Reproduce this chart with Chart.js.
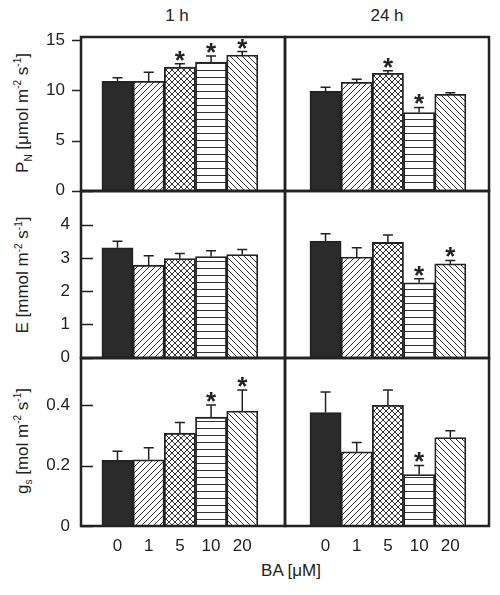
<!DOCTYPE html>
<html>
<head>
<meta charset="utf-8">
<script src="https://cdn.jsdelivr.net/npm/chart.js@4.4.1/dist/chart.umd.min.js"></script>
<style>
  body { margin: 0; background: #fff; font-family: "Liberation Sans", Arial, sans-serif; color: #222; }
  #wrap { position: relative; width: 500px; height: 595px; overflow: hidden; }
  canvas { position: absolute; }
  .txt { position: absolute; font-size: 17px; white-space: nowrap; transform: translate(-50%, -50%); }
  .ylab { position: absolute; font-size: 17px; white-space: nowrap; transform: translate(-50%, -50%) rotate(-90deg); }
  sub, sup { font-size: 10px; }
</style>
</head>
<body>
<div id="wrap">
  <div class="txt" style="left:177px;top:16px">1 h</div>
  <div class="txt" style="left:387px;top:16px">24 h</div>
  <div class="ylab" style="left:23px;top:113px">P<sub>N</sub> [μmol m<sup>-2</sup> s<sup>-1</sup>]</div>
  <div class="ylab" style="left:23px;top:275px">E [mmol m<sup>-2</sup> s<sup>-1</sup>]</div>
  <div class="ylab" style="left:23px;top:441px">g<sub>s</sub> [mol m<sup>-2</sup> s<sup>-1</sup>]</div>
  <div class="txt" style="left:291px;top:571px">BA [μM]</div>
</div>
<script>
// BA doses
var doses = ['0', '1', '5', '10', '20'];

// net photosynthetic rate
var pn1h = [10.9, 10.9, 12.3, 12.8, 13.5];
var pn1hErr = [0.35, 0.9, 0.35, 0.6, 0.35];
var pn1hSig = [0, 0, 1, 1, 1];
var pn24h = [9.9, 10.8, 11.7, 7.8, 9.6];
var pn24hErr = [0.4, 0.3, 0.25, 0.5, 0.15];
var pn24hSig = [0, 0, 1, 1, 0];

// transpiration rate
var e1h = [3.3, 2.78, 2.98, 3.04, 3.1];
var e1hErr = [0.2, 0.28, 0.15, 0.17, 0.15];
var e1hSig = [0, 0, 0, 0, 0];
var e24h = [3.5, 3.02, 3.46, 2.25, 2.82];
var e24hErr = [0.22, 0.28, 0.22, 0.12, 0.1];
var e24hSig = [0, 0, 0, 1, 1];

// stomatal conductance
var gs1h = [0.217, 0.219, 0.307, 0.36, 0.38];
var gs1hErr = [0.03, 0.04, 0.035, 0.04, 0.07];
var gs1hSig = [0, 0, 0, 1, 1];
var gs24h = [0.375, 0.245, 0.399, 0.17, 0.292];
var gs24hErr = [0.068, 0.031, 0.05, 0.03, 0.023];
var gs24hSig = [0, 0, 0, 1, 0];

var ink = '#222';
var FONT = '"Liberation Sans", Arial, sans-serif';

function hatch(kind) {
  var s = kind == 'horiz' ? 7 : 6;
  var c = document.createElement('canvas');
  c.width = s; c.height = s;
  var g = c.getContext('2d');
  g.fillStyle = '#fff';
  g.fillRect(0, 0, s, s);
  g.strokeStyle = '#333';
  g.lineWidth = 1;
  g.beginPath();
  if (kind == 'fwd' || kind == 'cross') {
    g.moveTo(0, s); g.lineTo(s, 0);
    g.moveTo(-1, 1); g.lineTo(1, -1);
    g.moveTo(s - 1, s + 1); g.lineTo(s + 1, s - 1);
  }
  if (kind == 'back' || kind == 'cross') {
    g.moveTo(0, 0); g.lineTo(s, s);
    g.moveTo(-1, s - 1); g.lineTo(1, s + 1);
    g.moveTo(s - 1, -1); g.lineTo(s + 1, 1);
  }
  if (kind == 'horiz') {
    g.moveTo(0, 3.5); g.lineTo(s, 3.5);
  }
  g.stroke();
  return g.createPattern(c, 'repeat');
}

var fills = ['#2b2b2b', hatch('fwd'), hatch('cross'), hatch('horiz'), hatch('back')];

// error bars, asterisks, box and y tick marks
var extras = {
  id: 'extras',
  afterDatasetsDraw: function(chart) {
    var ctx = chart.ctx, a = chart.chartArea;
    var x = chart.scales.x, y = chart.scales.y;
    var ds = chart.data.datasets[0];
    var opt = chart.options.plugins.extras;
    ctx.save();
    ctx.strokeStyle = ink;
    ctx.fillStyle = ink;
    ctx.lineWidth = 1.5;
    ds.data.forEach(function(pt, i) {
      var px = x.getPixelForValue(pt.x);
      var top = y.getPixelForValue(pt.y);
      var et = y.getPixelForValue(pt.y + ds.errs[i]);
      ctx.beginPath();
      ctx.moveTo(px, top); ctx.lineTo(px, et);
      ctx.moveTo(px - 5, et); ctx.lineTo(px + 5, et);
      ctx.stroke();
      if (ds.sig[i]) {
        ctx.font = 'bold 26px ' + FONT;
        ctx.textAlign = 'center';
        ctx.textBaseline = 'alphabetic';
        ctx.fillText('*', px, et + 5);
      }
    });
    ctx.lineWidth = 2.5;
    ctx.strokeRect(a.left, a.top, a.right - a.left, a.bottom - a.top);
    if (opt.tickDir) {
      ctx.lineWidth = 1.5;
      ctx.beginPath();
      y.ticks.forEach(function(t) {
        var py = Math.round(y.getPixelForValue(t.value)) + 0.5;
        ctx.moveTo(a.left, py);
        ctx.lineTo(a.left + opt.tickDir, py);
      });
      ctx.stroke();
    }
    ctx.restore();
  }
};

function panel(p) {
  var cv = document.createElement('canvas');
  cv.width = p.w; cv.height = p.h;
  cv.style.left = p.left + 'px';
  cv.style.top = p.top + 'px';
  document.getElementById('wrap').appendChild(cv);
  var pts = p.vals.map(function(v, i) { return { x: i, y: v }; });
  new Chart(cv, {
    type: 'bar',
    data: {
      datasets: [{
        data: pts,
        errs: p.errs,
        sig: p.sig,
        backgroundColor: fills,
        borderColor: ink,
        borderWidth: 1.8,
        barPercentage: 1,
        categoryPercentage: 1
      }]
    },
    options: {
      responsive: false,
      animation: false,
      layout: { padding: p.pad },
      plugins: {
        legend: { display: false },
        tooltip: { enabled: false },
        extras: { tickDir: p.tickDir }
      },
      scales: {
        x: {
          type: 'linear',
          offset: false,
          min: p.xmin, max: p.xmax,
          display: p.showX,
          grid: { display: false, drawTicks: false },
          border: { display: false },
          afterBuildTicks: function(s) { s.ticks = doses.map(function(d, i) { return { value: i }; }); },
          afterFit: function(s) { if (s.options.display) s.height = 30; },
          ticks: {
            padding: 10,
            color: ink,
            font: { family: FONT, size: 17 },
            callback: function(v) { return doses[v]; }
          }
        },
        y: {
          min: 0, max: p.ymax,
          display: p.showY,
          // tickLength only spaces the labels from the axis, the marks are drawn by extras
          grid: { display: false, drawTicks: true, tickLength: p.tickPad },
          border: { display: false },
          afterFit: function(s) { if (s.options.display) s.width = 50; },
          ticks: {
            stepSize: p.step,
            includeBounds: false,
            padding: 0,
            color: ink,
            font: { family: FONT, size: 17 },
            callback: p.fmt
          }
        }
      }
    },
    plugins: [extras]
  });
}

var colL = { left: 31, w: 258, xmin: -1.17, xmax: 5.37, showY: true };
var colR = { left: 281, w: 212, xmin: -1.3, xmax: 5.24, showY: false };
var rows = [
  { top: 25, h: 176, pad: { top: 12, bottom: 10 }, ymax: 15.3, step: 5, showX: false, tickDir: -9, tickPad: 16,
    fmt: function(v) { return v; } },
  { top: 181, h: 187, pad: { top: 10, bottom: 10 }, ymax: 5, step: 1, showX: false, tickDir: 12, tickPad: 11,
    fmt: function(v) { return v == 5 ? '' : v; } },
  { top: 348, h: 208, pad: { top: 10, bottom: 0 }, ymax: 0.555, step: 0.2, showX: true, tickDir: 12, tickPad: 11,
    fmt: function(v) { return v == 0 ? '0' : v.toFixed(1); } }
];
var sets = [
  [[pn1h, pn1hErr, pn1hSig], [pn24h, pn24hErr, pn24hSig]],
  [[e1h, e1hErr, e1hSig], [e24h, e24hErr, e24hSig]],
  [[gs1h, gs1hErr, gs1hSig], [gs24h, gs24hErr, gs24hSig]]
];

rows.forEach(function(r, ri) {
  [colL, colR].forEach(function(c, ci) {
    var s = sets[ri][ci];
    panel({
      left: c.left, w: c.w, top: r.top, h: r.h,
      pad: { left: ci == 0 ? 0 : 4, right: 4, top: r.pad.top, bottom: r.pad.bottom },
      xmin: c.xmin, xmax: c.xmax, showY: c.showY, showX: r.showX,
      ymax: r.ymax, step: r.step, fmt: r.fmt, tickPad: r.tickPad,
      tickDir: ci == 0 ? r.tickDir : 0,
      vals: s[0], errs: s[1], sig: s[2]
    });
  });
});
</script>
</body>
</html>
